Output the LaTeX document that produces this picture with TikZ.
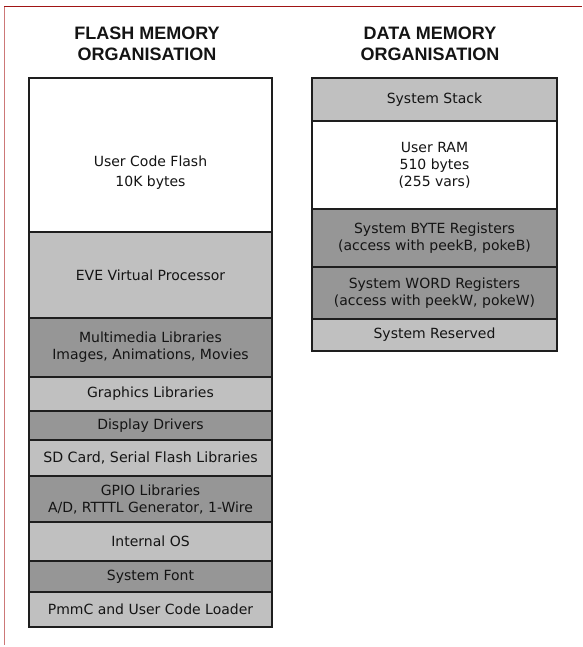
\documentclass[tikz,border=0pt]{standalone}
\usepackage{fontspec}
\setmainfont{DejaVu Sans}
\newfontfamily\headfont{Liberation Sans}
\definecolor{lightg}{RGB}{192,192,192}
\definecolor{darkg}{RGB}{150,150,150}
\definecolor{edge}{RGB}{30,30,30}
\definecolor{frametop}{RGB}{160,20,20}
\definecolor{frameleft}{RGB}{205,120,120}
\definecolor{txt}{RGB}{20,20,20}
\begin{document}
\begin{tikzpicture}[x=1pt,y=-1pt,
  cell/.style={draw=edge, line width=1.6pt, anchor=north west, inner sep=0pt, outer sep=0pt,
    align=center, font=\fontsize{14}{17}\selectfont, text=txt},
  fcell/.style={cell, minimum width=243pt},
  dcell/.style={cell, minimum width=245pt},
  lt/.style={fill=lightg}, dk/.style={fill=darkg}, wt/.style={fill=white},
  head/.style={font=\headfont\bfseries\fontsize{18}{21}\selectfont, anchor=base, text=txt}
]
\useasboundingbox (0,0) rectangle (582,647);
\fill[white] (0,0) rectangle (582,647);
\draw[frametop, line width=1.5pt] (4,6.5) -- (582,6.5);
\draw[frameleft, line width=1.5pt] (4.5,7) -- (4.5,645);

% headings
\node[head] (fh1) at (147,40) {FLASH MEMORY};
\node[head] (fh2) at (147,61) {ORGANISATION};
\node[head] (dh1) at (430,40) {DATA MEMORY};
\node[head] (dh2) at (430,61) {ORGANISATION};

% flash memory
\node[fcell,wt,minimum height=154pt] (ucf) at (29,78) {};
\node[align=center, font=\fontsize{14}{20}\selectfont, text=txt] (ucft) at (150.5,173) {User Code Flash\\10K bytes};
\node[fcell,lt,minimum height=86pt] (eve) at (29,232) {EVE Virtual Processor};
\node[fcell,dk,minimum height=59pt] (mm) at (29,318) {Multimedia Libraries\\Images, Animations, Movies};
\node[fcell,lt,minimum height=34pt] (gfx) at (29,377) {Graphics Libraries};
\node[fcell,dk,minimum height=29pt] (disp) at (29,411) {Display Drivers};
\node[fcell,lt,minimum height=36pt,font=\fontsize{14.2}{17}\selectfont] (sd) at (29,440) {SD Card, Serial Flash Libraries};
\node[fcell,dk,minimum height=46pt] (gpio) at (29,476) {GPIO Libraries\\A/D, RTTTL Generator, 1-Wire};
\node[fcell,lt,minimum height=39pt] (os) at (29,522) {Internal OS};
\node[fcell,dk,minimum height=31pt] (sysfont) at (29,561) {System Font};
\node[fcell,lt,minimum height=35pt] (pmmc) at (29,592) {PmmC and User Code Loader};

% data memory
\node[dcell,lt,minimum height=43pt] (stack) at (312,78) {System Stack};
\node[dcell,wt,minimum height=88pt] (ram) at (312,121) {User RAM\\510 bytes\\(255 vars)};
\node[dcell,dk,minimum height=58pt] (byte) at (312,209) {System BYTE Registers\\(access with peekB, pokeB)};
\node[dcell,dk,minimum height=52pt] (word) at (312,267) {System WORD Registers\\(access with peekW, pokeW)};
\node[dcell,lt,minimum height=32pt] (res) at (312,319) {System Reserved};
\end{tikzpicture}
\end{document}
